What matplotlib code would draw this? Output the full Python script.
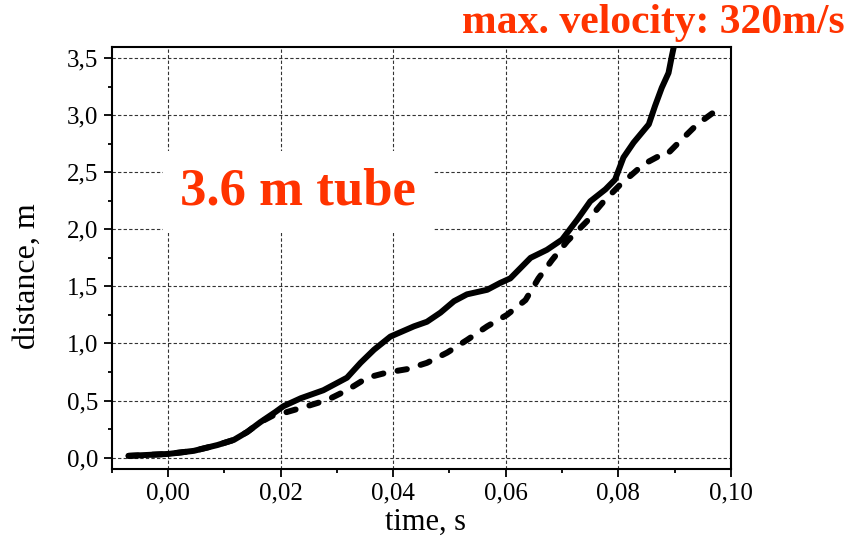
import matplotlib
matplotlib.use("Agg")
import matplotlib.pyplot as plt
from matplotlib.ticker import MultipleLocator, FuncFormatter

# solid curve
t_solid = [-0.0070, 0.0001, 0.0046, 0.0088, 0.0117, 0.0141, 0.0164, 0.0191, 0.0205,
           0.0236, 0.0276, 0.0318, 0.0342, 0.0366, 0.0395, 0.0437, 0.0460, 0.0484,
           0.0508, 0.0531, 0.0567, 0.0590, 0.0608, 0.0644, 0.0673, 0.0700, 0.0727,
           0.0750, 0.0777, 0.0794, 0.0809, 0.0827, 0.0854, 0.0865, 0.0877, 0.0889,
           0.0895, 0.0901]
d_solid = [0.015, 0.032, 0.059, 0.11, 0.155, 0.225, 0.31, 0.40, 0.45,
           0.52, 0.59, 0.70, 0.83, 0.945, 1.06, 1.15, 1.19, 1.27,
           1.37, 1.43, 1.47, 1.53, 1.57, 1.75, 1.82, 1.91, 2.085,
           2.245, 2.35, 2.435, 2.63, 2.76, 2.92, 3.08, 3.24, 3.37,
           3.52, 3.66]

# dashed curve
t_dash = [-0.0070, 0.0001, 0.0046, 0.0088, 0.0117, 0.0141, 0.0164, 0.0191, 0.0205,
          0.0247, 0.0283, 0.0318, 0.0354, 0.0389, 0.0425, 0.0460, 0.0496, 0.0531,
          0.0567, 0.0602, 0.0635, 0.0658, 0.0682, 0.0709, 0.0744, 0.0774, 0.0803,
          0.0845, 0.0877, 0.0886, 0.0907, 0.0940, 0.0972]
d_dash = [0.015, 0.032, 0.059, 0.11, 0.155, 0.225, 0.31, 0.38, 0.39,
          0.45, 0.505, 0.59, 0.70, 0.745, 0.775, 0.83, 0.92, 1.03,
          1.15, 1.25, 1.38, 1.57, 1.73, 1.895, 2.07, 2.245, 2.39,
          2.57, 2.655, 2.655, 2.76, 2.92, 3.035]

red = "#ff3300"
plt.rcParams["font.family"] = ["Liberation Serif", "DejaVu Serif"]

fig = plt.figure(figsize=(8.57, 5.44), dpi=100)
ax = fig.add_axes([0.1303, 0.1379, 0.7227, 0.7763])

ax.plot(t_dash, d_dash, color="black", lw=4.3, linestyle=(0, (1.6, 2.4)),
        dash_capstyle="round", solid_capstyle="round", zorder=3)
ax.plot(t_solid, d_solid, color="black", lw=4.3, solid_capstyle="round",
        solid_joinstyle="round", zorder=4)

ax.set_xlim(-0.01, 0.10)
ax.set_ylim(-0.1, 3.6)
ax.xaxis.set_major_locator(MultipleLocator(0.02))
ax.xaxis.set_minor_locator(MultipleLocator(0.01))
ax.yaxis.set_major_locator(MultipleLocator(0.5))
ax.yaxis.set_minor_locator(MultipleLocator(0.25))
ax.xaxis.set_major_formatter(FuncFormatter(lambda v, p: f"{v:.2f}".replace(".", ",")))
ax.yaxis.set_major_formatter(FuncFormatter(lambda v, p: f"{v:.1f}".replace(".", ",")))

ax.tick_params(which="major", direction="out", length=5.5, width=1.3,
               labelsize=18, pad=4)
ax.tick_params(which="minor", direction="out", length=3, width=1.3)
for s in ax.spines.values():
    s.set_linewidth(1.5)

ax.grid(True, which="major", color="#333333", lw=0.8, linestyle=(0, (3, 2)))
ax.set_axisbelow(True)

ax.set_xlabel("time, s", fontsize=22)
ax.set_ylabel("distance, m", fontsize=23)
ax.xaxis.set_label_coords(0.5075, -0.092)
ax.yaxis.set_label_coords(-0.1125, 0.457)

ax.text(0.0231, 2.33, "3.6 m tube", color=red, fontsize=38, fontweight="bold",
        ha="center", va="center", zorder=5,
        bbox=dict(facecolor="white", edgecolor="none", pad=12))

fig.text(0.986, 0.939, "max. velocity: 320m/s", color=red, fontsize=30,
         fontweight="bold", ha="right", va="baseline")

fig.savefig("out.png", dpi=100)
